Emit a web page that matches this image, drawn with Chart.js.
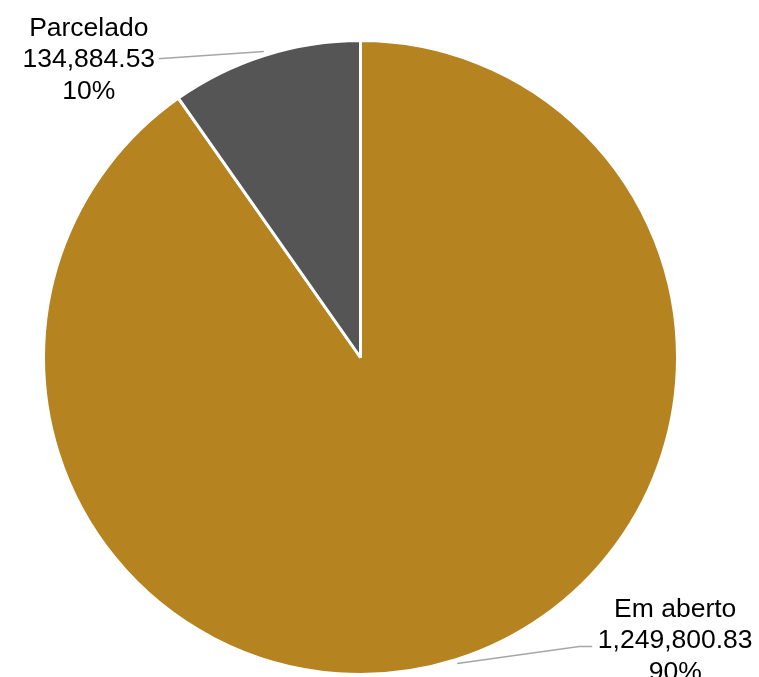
<!DOCTYPE html>
<html lang="pt">
<head>
    <meta charset="UTF-8">
    <title>Em aberto x Parcelado</title>
    <script src="https://cdn.jsdelivr.net/npm/chart.js"></script>
    <style>
        html, body { margin: 0; padding: 0; background: #fff; }
        #wrap { width: 759px; height: 677px; }
    </style>
</head>
<body>
    <div id="wrap"><canvas id="pieChart" width="759" height="677"></canvas></div>

    <script>
        const labels = ['Em aberto', 'Parcelado'];
        const values = [1249800.83, 134884.53];
        const colors = ['#B5831F', '#555555'];

        // where each label block sits relative to the end of its leader line
        const labelLayout = [
            { knee: [122, -17], tail: 13, text: [96, -37], align: 'center' },
            { knee: [-102, 7], tail: -3, text: [-73, -30], align: 'center' }
        ];

        const fmt = new Intl.NumberFormat('en-US', { minimumFractionDigits: 2, maximumFractionDigits: 2 });
        const total = values.reduce((a, b) => a + b, 0);

        const calloutPlugin = {
            id: 'callouts',
            afterDatasetsDraw(chart) {
                const ctx = chart.ctx;
                const meta = chart.getDatasetMeta(0);
                meta.data.forEach((arc, i) => {
                    const mid = (arc.startAngle + arc.endAngle) / 2;
                    const r = arc.outerRadius + 4;
                    const ax = arc.x + Math.cos(mid) * r;
                    const ay = arc.y + Math.sin(mid) * r;
                    const lay = labelLayout[i];
                    const kx = ax + lay.knee[0], ky = ay + lay.knee[1];
                    ctx.save();
                    ctx.strokeStyle = '#A6A6A6';
                    ctx.lineWidth = 1.5;
                    ctx.beginPath();
                    ctx.moveTo(ax, ay);
                    ctx.lineTo(kx, ky);
                    ctx.lineTo(kx + lay.tail, ky);
                    ctx.stroke();

                    const pct = Math.round(values[i] / total * 100) + '%';
                    const lines = [labels[i], fmt.format(values[i]), pct];
                    ctx.fillStyle = '#000';
                    ctx.font = '26.5px "Liberation Sans", Arial, sans-serif';
                    ctx.textAlign = lay.align;
                    ctx.textBaseline = 'middle';
                    const tx = kx + lay.text[0], ty = ky + lay.text[1];
                    lines.forEach((t, j) => ctx.fillText(t, tx, ty + j * 31.5));
                    ctx.restore();
                });
            }
        };

        new Chart(document.getElementById('pieChart').getContext('2d'), {
            type: 'pie',
            data: {
                labels: labels,
                datasets: [{
                    data: values,
                    backgroundColor: colors,
                    borderColor: '#ffffff',
                    borderWidth: 3
                }]
            },
            options: {
                responsive: false,
                animation: false,
                layout: { padding: { top: 39, bottom: 1, left: 42, right: 80 } },
                plugins: {
                    legend: { display: false },
                    tooltip: { enabled: false }
                }
            },
            plugins: [calloutPlugin]
        });
    </script>
</body>
</html>
